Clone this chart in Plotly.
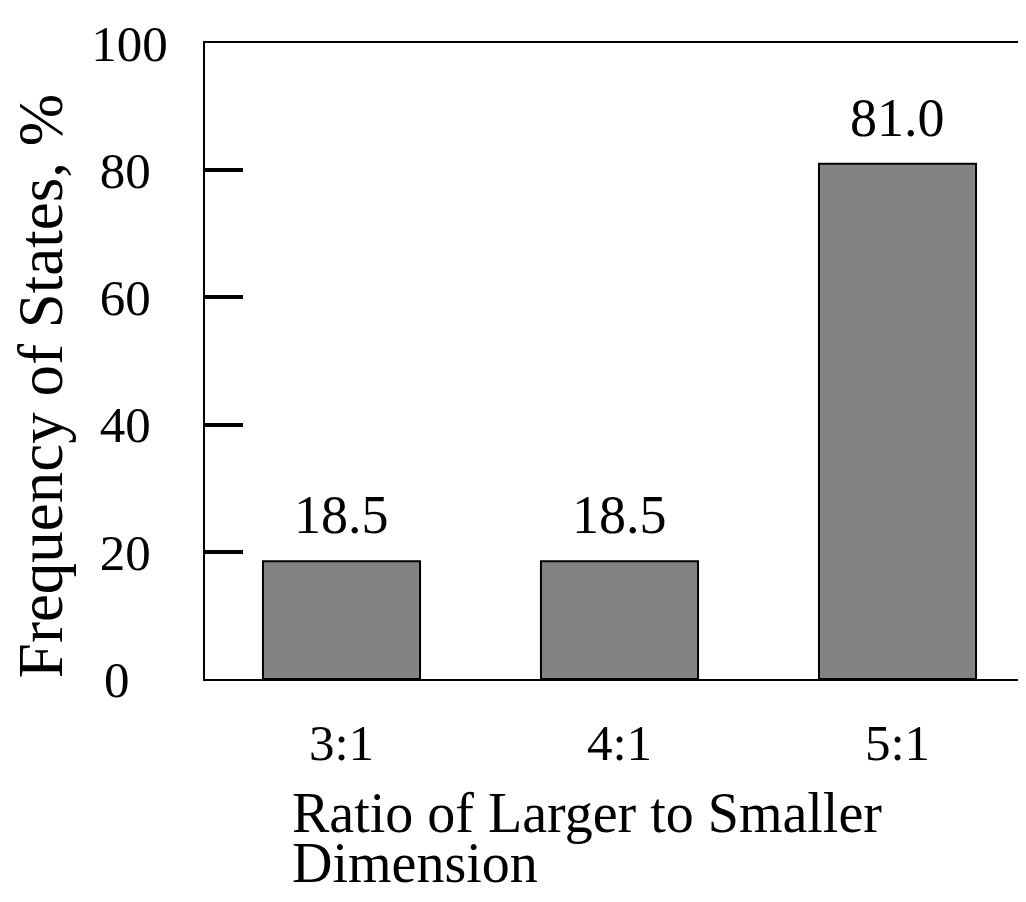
import plotly.graph_objects as go

categories = ["3:1", "4:1", "5:1"]
values = [18.5, 18.5, 81.0]
y_tickvals = [0, 20, 40, 60, 80, 100]
y_ticktext = ["0\u00a0\u00a0\u00a0", "20\u00a0\u200a", "40\u00a0\u200a", "60\u00a0\u200a", "80\u00a0\u200a", "100"]
y_title = "Frequency of States, %"
x_title_lines = ["Ratio of Larger to Smaller", "Dimension"]

FONT = "Liberation Serif, Times New Roman, serif"

fig = go.Figure()
fig.add_trace(go.Bar(
    x=categories, y=values,
    width=0.565,
    marker=dict(color="#838383", line=dict(color="black", width=2)),
    showlegend=False,
))

annotations = []
for c, v in zip(categories, values):
    annotations.append(dict(
        x=c, y=v, xref="x", yref="y", text=f"{v:.1f}", showarrow=False,
        yanchor="bottom", yshift=14, font=dict(family=FONT, size=54, color="black"),
    ))

annotations.append(dict(
    x=-0.197, y=0.46, xref="paper", yref="paper", text=y_title, textangle=-90,
    showarrow=False, xanchor="center", yanchor="middle",
    font=dict(family=FONT, size=63, color="black"),
))
annotations.append(dict(
    x=0.102, y=-0.21, xref="paper", yref="paper", text=x_title_lines[0],
    showarrow=False, xanchor="left", yanchor="middle",
    font=dict(family=FONT, size=56, color="black"),
))
annotations.append(dict(
    x=0.102, y=-0.29, xref="paper", yref="paper", text=x_title_lines[1],
    showarrow=False, xanchor="left", yanchor="middle",
    font=dict(family=FONT, size=56, color="black"),
))

fig.update_layout(
    width=1026, height=902, autosize=False,
    margin=dict(l=197, r=0, t=35, b=231, autoexpand=False),
    paper_bgcolor="white", plot_bgcolor="white",
    font=dict(family=FONT, color="black"),
    annotations=annotations,
    bargap=0.4,
)
fig.update_xaxes(
    type="category", range=[-0.491, 2.491], automargin=False,
    showline=True, linecolor="black", linewidth=2, mirror=True,
    ticks="", showgrid=False, zeroline=False,
    tickfont=dict(family=FONT, size=51, color="black"),
    ticklabelstandoff=18,
)
fig.update_yaxes(
    range=[0, 100], tickvals=y_tickvals, ticktext=y_ticktext, automargin=False,
    showline=True, linecolor="black", linewidth=2, mirror=False,
    ticks="inside", ticklen=38, tickwidth=3.5, tickcolor="black",
    showgrid=False, zeroline=False,
    tickfont=dict(family=FONT, size=51, color="black"),
    ticklabelstandoff=25,
)

fig.write_html("out.html")
